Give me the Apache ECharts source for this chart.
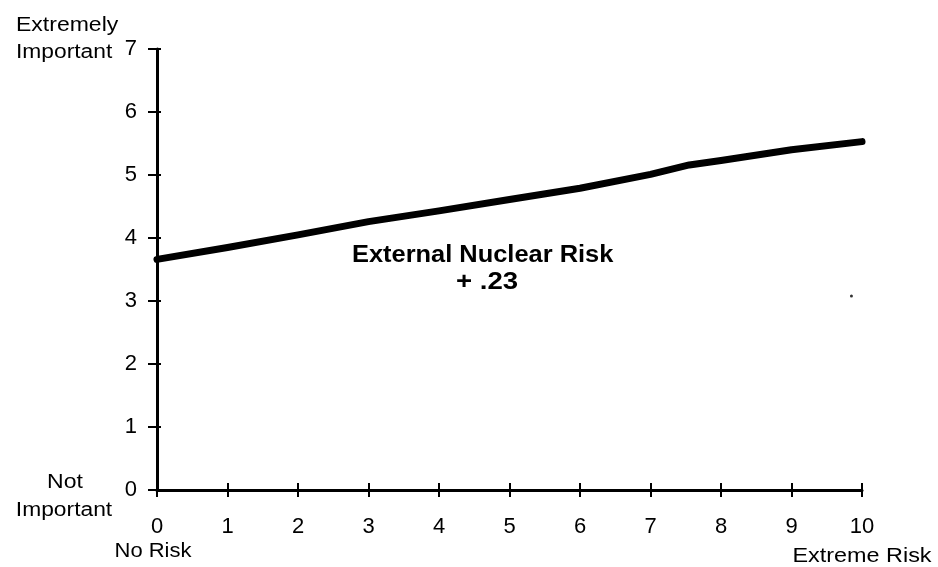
<!DOCTYPE html>
<html>
<head>
<meta charset="utf-8">
<script src="https://cdn.jsdelivr.net/npm/echarts@6/dist/echarts.min.js"></script>
<style>
html,body{margin:0;padding:0;background:#fff;}
#chart{width:938px;height:567px;}
</style>
</head>
<body>
<div id="chart"></div>
<script>
// Data
var riskLevels = [0, 1, 2, 3, 4, 5, 6, 7, 7.55, 8, 9, 10];
var importance = [3.66, 3.85, 4.05, 4.26, 4.43, 4.61, 4.79, 5.01, 5.16, 5.23, 5.40, 5.53];
var strayDot = [[9.85, 3.08]];
var xTicks = [0, 1, 2, 3, 4, 5, 6, 7, 8, 9, 10];
var yTicks = [0, 1, 2, 3, 4, 5, 6, 7];
var seriesLabel = ['External Nuclear Risk', '+ .23'];
var yEndLabels = ['Extremely', 'Important', 'Not', 'Important'];
var xEndLabels = ['No Risk', 'Extreme Risk'];

var lineData = riskLevels.map(function (x, i) { return [x, importance[i]]; });
var FONT = '"Liberation Sans", Arial, Helvetica, sans-serif';

function txt(t, x, y, font, align, sx) {
  return {
    type: 'text', x: x, y: y, scaleX: sx, scaleY: 1,
    style: {text: t, font: font, fill: '#000', align: align, verticalAlign: 'middle'}
  };
}

var chart = echarts.init(document.getElementById('chart'), null, {renderer: 'canvas'});
var axisLineStyle = {color: '#000', width: 3};
var option = {
  backgroundColor: '#fff',
  animation: false,
  grid: {left: 157, right: 76, top: 49, bottom: 77, containLabel: false},
  xAxis: [{
    type: 'value', min: 0, max: 10, interval: 1,
    axisLine: {show: true, lineStyle: axisLineStyle, onZero: false},
    axisTick: {show: true, length: 7, lineStyle: {color: '#000', width: 2}},
    splitLine: {show: false},
    axisLabel: {margin: 25, fontFamily: FONT, fontSize: 22, color: '#000', lineHeight: 24}
  }, {
    type: 'value', min: 0, max: 10, interval: 1, position: 'bottom',
    axisLine: {show: false},
    axisTick: {show: true, inside: true, length: 7, lineStyle: {color: '#000', width: 2}},
    axisLabel: {show: false}, splitLine: {show: false}
  }],
  yAxis: [{
    type: 'value', min: 0, max: 7, interval: 1,
    axisLine: {show: true, lineStyle: axisLineStyle, onZero: false},
    axisTick: {show: true, length: 9, lineStyle: {color: '#000', width: 2}},
    splitLine: {show: false},
    axisLabel: {margin: 20, fontFamily: FONT, fontSize: 22, color: '#000'}
  }, {
    type: 'value', min: 0, max: 7, interval: 1, position: 'left',
    axisLine: {show: false},
    axisTick: {show: true, inside: true, length: 4, lineStyle: {color: '#000', width: 2}},
    axisLabel: {show: false}, splitLine: {show: false}
  }],
  graphic: [
    txt(yEndLabels[0], 16, 25.5, '20px ' + FONT, 'left', 1.15),
    txt(yEndLabels[1], 16, 52, '20px ' + FONT, 'left', 1.14),
    txt(yEndLabels[2], 65, 482, '20px ' + FONT, 'center', 1.15),
    txt(yEndLabels[3], 64, 510, '20px ' + FONT, 'center', 1.14),
    txt(xEndLabels[0], 153, 551, '20px ' + FONT, 'center', 1.1),
    txt(xEndLabels[1], 862, 556, '20px ' + FONT, 'center', 1.17),
    txt(seriesLabel[0], 352, 255.5, 'bold 23px ' + FONT, 'left', 1.105),
    txt(seriesLabel[1], 487, 283, 'bold 23px ' + FONT, 'center', 1.2)
  ],
  series: [{
    type: 'line', data: lineData, symbol: 'none', smooth: false,
    lineStyle: {color: '#000', width: 7, cap: 'round', join: 'round'},
    silent: true, z: 5
  }, {
    type: 'scatter', data: strayDot, symbol: 'circle', symbolSize: 3,
    itemStyle: {color: '#000'}, silent: true
  }]
};
chart.setOption(option);
</script>
</body>
</html>
